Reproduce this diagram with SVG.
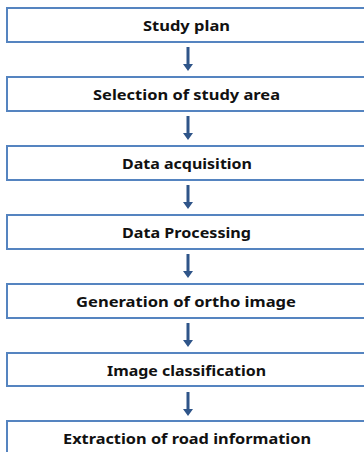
<svg xmlns="http://www.w3.org/2000/svg" xmlns:xlink="http://www.w3.org/1999/xlink" width="364" height="452" viewBox="0 0 364 452">
<style>
.box{fill:#ffffff;stroke:#5584c0;stroke-width:2}
.lbl{font-family:"Noto Sans","Liberation Sans",sans-serif;font-weight:bold;font-size:15px;fill:#111111;text-anchor:middle}
.arr{fill:#2f5589}
</style>
<defs>
<path id="arrow" class="arr" d="M186.5,0 H189.5 V17 H193 L188,24 L183,17 H186.5 Z"/>
</defs>
<rect width="364" height="452" fill="#ffffff"/>
<g id="connectors">
<use xlink:href="#arrow" y="47"/>
<use xlink:href="#arrow" y="116"/>
<use xlink:href="#arrow" y="185"/>
<use xlink:href="#arrow" y="254"/>
<use xlink:href="#arrow" y="323"/>
<use xlink:href="#arrow" y="392"/>
</g>
<g id="n1"><rect class="box" x="7" y="8" width="370" height="34"/><text class="lbl" x="186.5" y="31" textLength="87" lengthAdjust="spacingAndGlyphs">Study plan</text></g>
<g id="n2"><rect class="box" x="7" y="77" width="370" height="34"/><text class="lbl" x="186.5" y="100" textLength="187" lengthAdjust="spacingAndGlyphs">Selection of study area</text></g>
<g id="n3"><rect class="box" x="7" y="146" width="370" height="34"/><text class="lbl" x="187" y="169" textLength="130" lengthAdjust="spacingAndGlyphs">Data acquisition</text></g>
<g id="n4"><rect class="box" x="7" y="215" width="370" height="34"/><text class="lbl" x="186.5" y="238" textLength="129" lengthAdjust="spacingAndGlyphs">Data Processing</text></g>
<g id="n5"><rect class="box" x="7" y="284" width="370" height="34"/><text class="lbl" x="186" y="307" textLength="220" lengthAdjust="spacingAndGlyphs">Generation of ortho image</text></g>
<g id="n6"><rect class="box" x="7" y="353" width="370" height="33"/><text class="lbl" x="186.5" y="375.5" textLength="159" lengthAdjust="spacingAndGlyphs">Image classification</text></g>
<g id="n7"><rect class="box" x="7" y="421" width="370" height="40"/><text class="lbl" x="187" y="444" textLength="248" lengthAdjust="spacingAndGlyphs">Extraction of road information</text></g>
</svg>
